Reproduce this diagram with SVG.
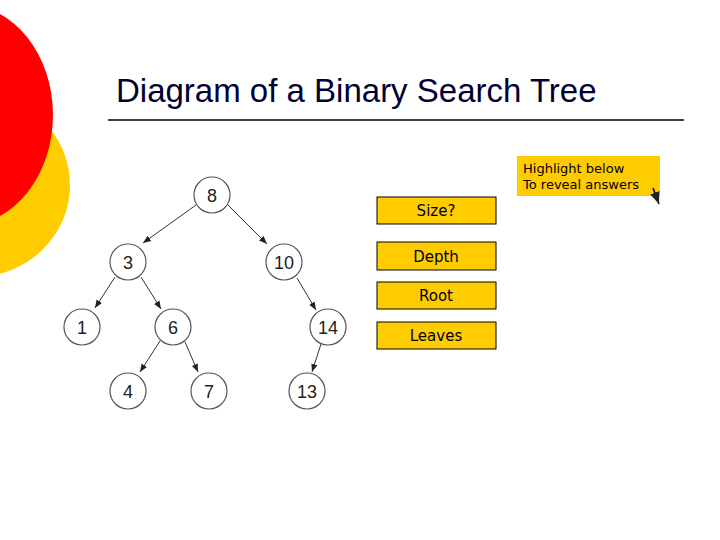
<svg xmlns="http://www.w3.org/2000/svg" width="720" height="540" viewBox="0 0 720 540">
<style>
.n circle{fill:#fff;stroke:#555;stroke-width:1.2}
.n text{font-family:"Liberation Sans",Arial,sans-serif;font-size:18px;text-anchor:middle;fill:#222}
.b rect{fill:#ffcc00;stroke:#000;stroke-width:1}
.b text{font-family:"DejaVu Sans",sans-serif;font-size:15px;text-anchor:middle;fill:#000}
#edges line{stroke:#333;stroke-width:1;marker-end:url(#ah)}
</style>
<defs><marker id="ah" viewBox="0 0 10 10" refX="10" refY="5" markerWidth="8" markerHeight="8" orient="auto"><path d="M0,1L10,5L0,9z" fill="#222"/></marker></defs>
<rect width="720" height="540" fill="#fff"/>
<ellipse cx="-25" cy="185" rx="95" ry="92" fill="#ffcc00"/>
<ellipse cx="-35" cy="115" rx="88" ry="110" fill="#ff0000"/>
<text x="116" y="102" font-family="Liberation Sans,Arial,sans-serif" font-size="33" fill="#000033">Diagram of a Binary Search Tree</text>
<line x1="108" y1="120" x2="684" y2="120" stroke="#000" stroke-width="1.5"/>
<g id="edges">
<line x1="196" y1="205" x2="143" y2="243"/>
<line x1="228" y1="205" x2="267" y2="244"/>
<line x1="115" y1="277" x2="95" y2="308"/>
<line x1="141" y1="277" x2="161" y2="309"/>
<line x1="297" y1="278" x2="316" y2="310"/>
<line x1="160" y1="341" x2="140" y2="372"/>
<line x1="185" y1="342" x2="198" y2="372"/>
<line x1="321" y1="344" x2="312" y2="372"/>
</g>
<g id="n8" class="n"><circle cx="212" cy="195" r="18"/><text x="212" y="202">8</text></g>
<g id="n3" class="n"><circle cx="128" cy="262" r="18"/><text x="128" y="269">3</text></g>
<g id="n10" class="n"><circle cx="284" cy="262" r="18"/><text x="284" y="269">10</text></g>
<g id="n1" class="n"><circle cx="82" cy="327" r="18"/><text x="82" y="334">1</text></g>
<g id="n6" class="n"><circle cx="173" cy="327" r="18"/><text x="173" y="334">6</text></g>
<g id="n14" class="n"><circle cx="328" cy="327" r="18"/><text x="328" y="334">14</text></g>
<g id="n4" class="n"><circle cx="128" cy="391" r="18"/><text x="128" y="398">4</text></g>
<g id="n7" class="n"><circle cx="209" cy="391" r="18"/><text x="209" y="398">7</text></g>
<g id="n13" class="n"><circle cx="307" cy="391" r="18"/><text x="307" y="398">13</text></g>
<g id="size" class="b"><rect x="377" y="197" width="119" height="27"/><text x="436" y="216">Size?</text></g>
<g id="depth" class="b"><rect x="377" y="242" width="119" height="28"/><text x="436" y="262">Depth</text></g>
<g id="root" class="b"><rect x="377" y="282" width="119" height="27"/><text x="436" y="301">Root</text></g>
<g id="leaves" class="b"><rect x="377" y="322" width="119" height="27"/><text x="436" y="341">Leaves</text></g>
<g id="hint">
<rect x="517" y="156" width="143" height="40" fill="#ffcc00"/>
<text font-family="DejaVu Sans,sans-serif" font-size="13" fill="#000"><tspan x="523" y="173">Highlight below</tspan><tspan x="523" y="189">To reveal answers</tspan></text>
<path d="M653,188L659,204" stroke="#000" stroke-width="1.5" marker-end="url(#ah)"/>
</g>
</svg>
